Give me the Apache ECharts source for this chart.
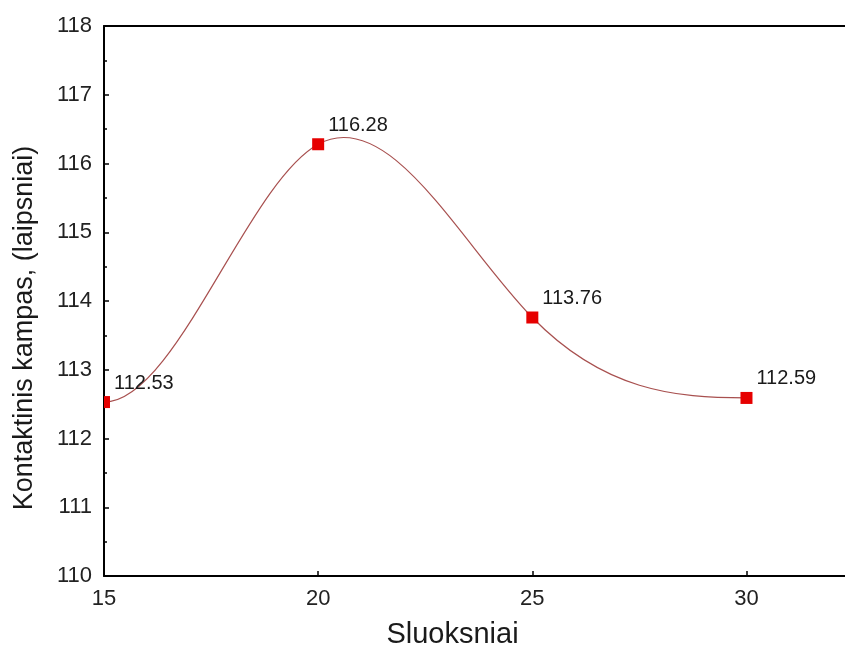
<!DOCTYPE html>
<html>
<head>
<meta charset="utf-8">
<script src="https://cdn.jsdelivr.net/npm/echarts@6/dist/echarts.min.js"></script>
<style>
  html, body { margin: 0; padding: 0; background: #fff; }
  #chart { width: 845px; height: 654px; }
</style>
</head>
<body>
<div id="chart"></div>
<script>
// Layers (x) and contact angle in degrees (y)
const layers = [15, 20, 25, 30];
const angles = [112.53, 116.28, 113.76, 112.59];
const yTicks = [110, 111, 112, 113, 114, 115, 116, 117, 118];
const xTicks = [15, 20, 25, 30];

const xName = 'Sluoksniai';
const yName = 'Kontaktinis kampas, (laipsniai)';

const font = '"Liberation Sans", Arial, sans-serif';
const points = layers.map((x, i) => [x, angles[i]]);

// Knot slopes of a clamped cubic spline (zero slope at both ends),
// used to draw the smooth curve through the measured points.
function clampedSplineSlopes(xs, ys) {
  const n = xs.length - 1;
  const h = [];
  for (let i = 0; i < n; i++) h.push(xs[i + 1] - xs[i]);
  const a = [], b = [], c = [], d = [];
  a.push(0); b.push(2 * h[0]); c.push(h[0]);
  d.push(6 * ((ys[1] - ys[0]) / h[0] - 0));
  for (let i = 1; i < n; i++) {
    a.push(h[i - 1]); b.push(2 * (h[i - 1] + h[i])); c.push(h[i]);
    d.push(6 * ((ys[i + 1] - ys[i]) / h[i] - (ys[i] - ys[i - 1]) / h[i - 1]));
  }
  a.push(h[n - 1]); b.push(2 * h[n - 1]); c.push(0);
  d.push(6 * (0 - (ys[n] - ys[n - 1]) / h[n - 1]));
  // Thomas algorithm
  const cp = [], dp = [];
  cp[0] = c[0] / b[0]; dp[0] = d[0] / b[0];
  for (let i = 1; i <= n; i++) {
    const m = b[i] - a[i] * cp[i - 1];
    cp[i] = c[i] / m;
    dp[i] = (d[i] - a[i] * dp[i - 1]) / m;
  }
  const M = [];
  M[n] = dp[n];
  for (let i = n - 1; i >= 0; i--) M[i] = dp[i] - cp[i] * M[i + 1];
  const s = [];
  for (let i = 0; i < n; i++) {
    s.push((ys[i + 1] - ys[i]) / h[i] - h[i] * (2 * M[i] + M[i + 1]) / 6);
  }
  s.push((ys[n] - ys[n - 1]) / h[n - 1] + h[n - 1] * (M[n - 1] + 2 * M[n]) / 6);
  return s;
}
const slopes = clampedSplineSlopes(layers, angles);

// one curve segment per interval between neighbouring points
const segments = layers.slice(0, -1).map((x, i) => [x, angles[i], i]);

const chart = echarts.init(document.getElementById('chart'), null, { renderer: 'canvas' });

const xMax = 32.3;
const markerSize = 12;

chart.setOption({
  animation: false,
  backgroundColor: '#ffffff',
  grid: { left: 104, right: 0, top: 26, bottom: 69, containLabel: false },
  xAxis: [
    {
      type: 'value',
      position: 'bottom',
      min: xTicks[0],
      max: xMax,
      interval: 5,
      name: xName,
      nameLocation: 'middle',
      nameGap: 44,
      nameTextStyle: { fontFamily: font, fontSize: 29, color: '#1a1a1a', padding: [0, 44, 0, 0] },
      axisLine: { show: true, onZero: false, lineStyle: { color: '#000', width: 2 } },
      axisTick: { show: true, inside: true, length: 5, customValues: xTicks, lineStyle: { color: '#000', width: 1.5 } },
      axisLabel: {
        fontFamily: font, fontSize: 22, color: '#222', margin: 12,
        customValues: xTicks,
        formatter: v => String(v)
      },
      splitLine: { show: false }
    },
    {
      type: 'value',
      position: 'top',
      min: xTicks[0],
      max: xMax,
      axisLine: { show: true, onZero: false, lineStyle: { color: '#000', width: 2 } },
      axisTick: { show: false },
      axisLabel: { show: false },
      splitLine: { show: false }
    }
  ],
  yAxis: {
    type: 'value',
    min: yTicks[0],
    max: yTicks[yTicks.length - 1],
    interval: 1,
    name: yName,
    nameLocation: 'middle',
    nameGap: 66,
    nameTextStyle: { fontFamily: font, fontSize: 27, color: '#1a1a1a', padding: [0, 54, 0, 0] },
    axisLine: { show: true, onZero: false, lineStyle: { color: '#000', width: 2 } },
    axisTick: { show: true, inside: true, length: 5, lineStyle: { color: '#000', width: 1.5 } },
    minorTick: { show: true, splitNumber: 2, length: 3, lineStyle: { color: '#000', width: 1.5 } },
    axisLabel: { fontFamily: font, fontSize: 22, color: '#222', margin: 12 },
    splitLine: { show: false }
  },
  series: [
    {
      // smooth curve: cubic Bezier segments between neighbouring points
      type: 'custom',
      clip: true,
      silent: true,
      z: 2,
      data: segments,
      renderItem: function (params, api) {
        const i = api.value(2);
        const x0 = layers[i], x1 = layers[i + 1];
        const y0 = angles[i], y1 = angles[i + 1];
        const h = x1 - x0;
        const p0 = api.coord([x0, y0]);
        const c1 = api.coord([x0 + h / 3, y0 + slopes[i] * h / 3]);
        const c2 = api.coord([x1 - h / 3, y1 - slopes[i + 1] * h / 3]);
        const p1 = api.coord([x1, y1]);
        return {
          type: 'bezierCurve',
          shape: {
            x1: p0[0], y1: p0[1], x2: p1[0], y2: p1[1],
            cpx1: c1[0], cpy1: c1[1], cpx2: c2[0], cpy2: c2[1]
          },
          style: { stroke: '#a8504f', lineWidth: 1.2, fill: null }
        };
      }
    },
    {
      // square markers, clipped to the plot area
      type: 'custom',
      clip: true,
      silent: true,
      z: 3,
      data: points,
      renderItem: function (params, api) {
        const p = api.coord([api.value(0), api.value(1)]);
        return {
          type: 'rect',
          shape: { x: p[0] - markerSize / 2, y: p[1] - markerSize / 2, width: markerSize, height: markerSize },
          style: { fill: '#e60000', stroke: null }
        };
      }
    },
    {
      // value labels next to each point
      type: 'scatter',
      data: points,
      z: 4,
      silent: true,
      symbol: 'rect',
      symbolSize: markerSize,
      itemStyle: { opacity: 0 },
      label: {
        show: true,
        position: 'right',
        distance: 4,
        offset: [0, -19],
        fontFamily: font,
        fontSize: 20,
        color: '#1a1a1a',
        opacity: 1,
        formatter: p => p.value[1].toFixed(2)
      }
    }
  ]
});
</script>
</body>
</html>
